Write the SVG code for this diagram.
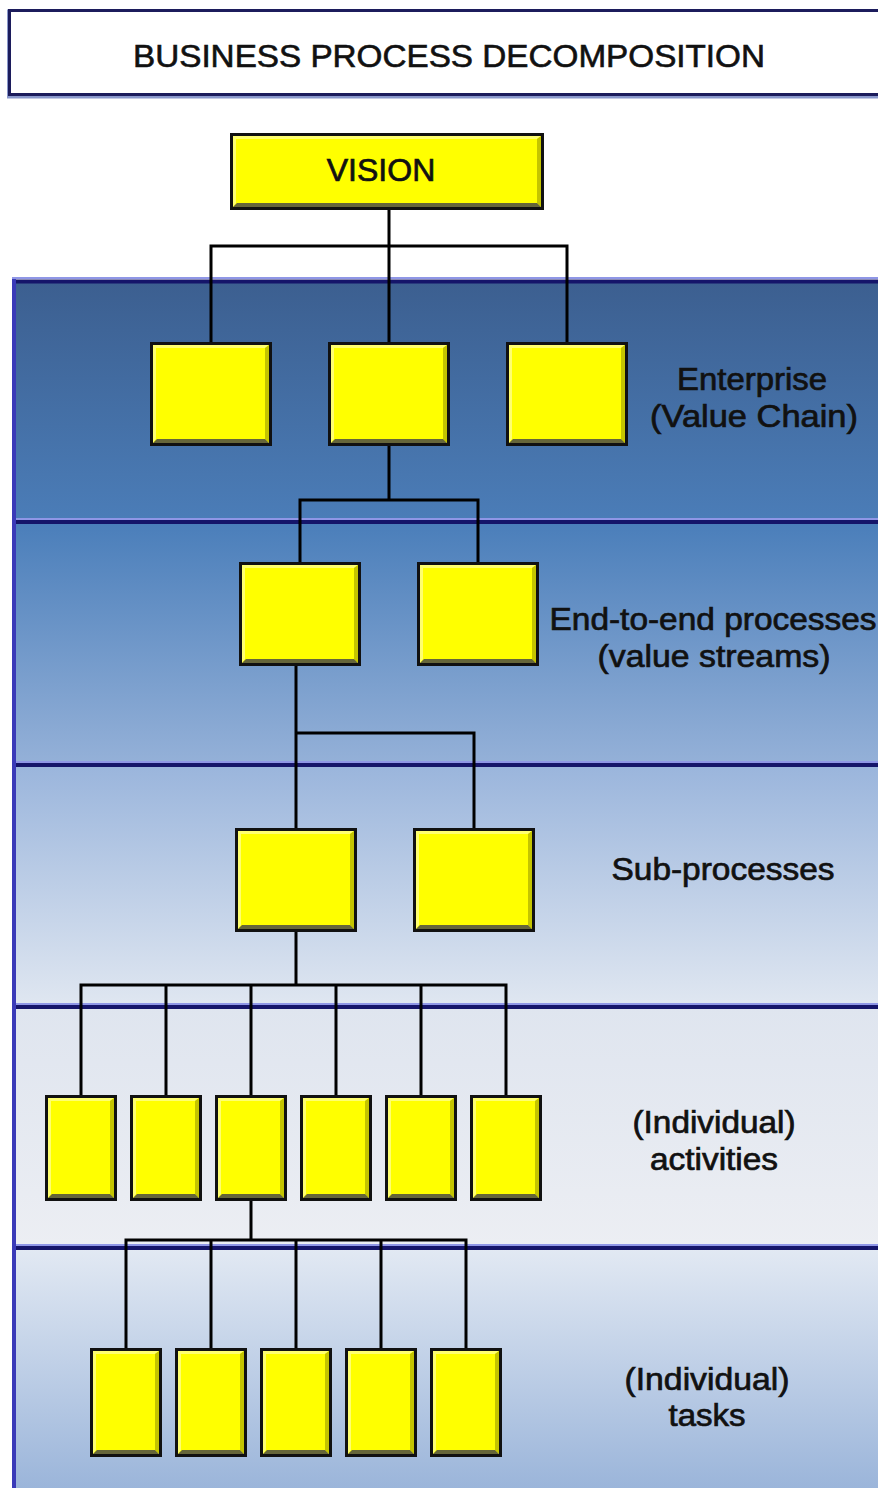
<svg xmlns="http://www.w3.org/2000/svg" xmlns:xlink="http://www.w3.org/1999/xlink" width="878" height="1488" viewBox="0 0 878 1488">
<style>
.lbl{font-family:"Liberation Sans",Arial,sans-serif;font-size:31px;fill:#111;stroke:#111;stroke-width:0.7px;text-anchor:middle}
.ttl{font-family:"Liberation Sans",Arial,sans-serif;font-size:31px;fill:#111;stroke:#111;stroke-width:0.6px;text-anchor:middle}
.conn{fill:none;stroke:#000;stroke-width:3;stroke-linecap:square}
.bx{fill:#ffff00;stroke:#111;stroke-width:3}
.bb{fill:#66663a}
.br{fill:#c4c400}
.bt{fill:#ffff70}
.hi{stroke:#8f96e6;stroke-width:2}
.dk{stroke:#15156a;stroke-width:4}
</style>
<defs>
<linearGradient id="g1" x1="0" y1="0" x2="0" y2="1"><stop offset="0" stop-color="#3c5f90"/><stop offset="1" stop-color="#4b7db8"/></linearGradient>
<linearGradient id="g2" x1="0" y1="0" x2="0" y2="1"><stop offset="0" stop-color="#4a7eba"/><stop offset="1" stop-color="#95b1d8"/></linearGradient>
<linearGradient id="g3" x1="0" y1="0" x2="0" y2="1"><stop offset="0" stop-color="#9ab5dc"/><stop offset="1" stop-color="#e0e7f1"/></linearGradient>
<linearGradient id="g4" x1="0" y1="0" x2="0" y2="1"><stop offset="0" stop-color="#dfe5ef"/><stop offset="1" stop-color="#eceef3"/></linearGradient>
<linearGradient id="g5" x1="0" y1="0" x2="0" y2="1"><stop offset="0" stop-color="#e2e9f3"/><stop offset="1" stop-color="#9bb5da"/></linearGradient>
<g id="b122">
<rect class="bx" x="1.5" y="1.5" width="119" height="101"/>
<polygon class="bt" points="3,3 119,3 115,6 6,6 6,97 3,101"/>
<polygon class="br" points="119,3 119,101 115,97 115,6"/>
<polygon class="bb" points="3,101 119,101 115,97 7,97"/>
</g>
<g id="b72a">
<rect class="bx" x="1.5" y="1.5" width="69" height="103"/>
<polygon class="bt" points="3,3 69,3 65,6 6,6 6,99 3,103"/>
<polygon class="br" points="69,3 69,103 65,99 65,6"/>
<polygon class="bb" points="3,103 69,103 65,99 7,99"/>
</g>
<g id="b72b">
<rect class="bx" x="1.5" y="1.5" width="69" height="106"/>
<polygon class="bt" points="3,3 69,3 65,6 6,6 6,102 3,106"/>
<polygon class="br" points="69,3 69,106 65,102 65,6"/>
<polygon class="bb" points="3,106 69,106 65,102 7,102"/>
</g>
</defs>

<rect x="0" y="0" width="878" height="1488" fill="#ffffff"/>

<g id="bands">
<rect x="12" y="282" width="870" height="240" fill="url(#g1)"/>
<rect x="12" y="522" width="870" height="243" fill="url(#g2)"/>
<rect x="12" y="765" width="870" height="242" fill="url(#g3)"/>
<rect x="12" y="1007" width="870" height="241" fill="url(#g4)"/>
<rect x="12" y="1248" width="870" height="240" fill="url(#g5)"/>
<line class="hi" x1="12" y1="278" x2="878" y2="278"/>
<line class="dk" x1="12" y1="281.5" x2="878" y2="281.5"/>
<line class="hi" x1="12" y1="519" x2="878" y2="519"/>
<line class="dk" x1="12" y1="522" x2="878" y2="522"/>
<line class="hi" x1="12" y1="762" x2="878" y2="762"/>
<line class="dk" x1="12" y1="765" x2="878" y2="765"/>
<line class="hi" x1="12" y1="1004" x2="878" y2="1004"/>
<line class="dk" x1="12" y1="1007" x2="878" y2="1007"/>
<line class="hi" x1="12" y1="1245" x2="878" y2="1245"/>
<line class="dk" x1="12" y1="1248" x2="878" y2="1248"/>
<line x1="14" y1="279" x2="14" y2="1488" stroke="#3a3ab8" stroke-width="4"/>
</g>

<g id="title">
<rect x="9.5" y="12" width="880" height="84" fill="none" stroke="#8a98cc" stroke-width="5"/>
<rect x="9.5" y="10.5" width="880" height="84" fill="#ffffff" stroke="#1c1c5c" stroke-width="3"/>
<text class="ttl" x="449" y="67" textLength="632" lengthAdjust="spacingAndGlyphs">BUSINESS PROCESS DECOMPOSITION</text>
</g>

<g id="connectors">
<path class="conn" d="M389 211V246M211 246H567M211 246V342M389 246V342M567 246V342"/>
<path class="conn" d="M389 446V500M300 500H478M300 500V562M478 500V562"/>
<path class="conn" d="M296 666V828M296 733H474V828"/>
<path class="conn" d="M296 932V985M81 985H506M81 985V1095M166 985V1095M251 985V1095M336 985V1095M421 985V1095M506 985V1095"/>
<path class="conn" d="M251 1201V1240M126 1240H466M126 1240V1348M211 1240V1348M296 1240V1348M381 1240V1348M466 1240V1348"/>
</g>

<g id="vision">
<rect class="bx" x="231.5" y="134.5" width="311" height="74"/>
<polygon class="bt" points="233,136 541,136 537,139 236,139 236,203 233,207"/>
<polygon class="br" points="541,136 541,207 537,203 537,139"/>
<polygon class="bb" points="233,207 541,207 537,203 237,203"/>
<text class="lbl" x="381" y="181" style="font-size:32px">VISION</text>
</g>

<g id="enterprise-1"><use xlink:href="#b122" x="150" y="342"/></g>
<g id="enterprise-2"><use xlink:href="#b122" x="328" y="342"/></g>
<g id="enterprise-3"><use xlink:href="#b122" x="506" y="342"/></g>

<g id="e2e-1"><use xlink:href="#b122" x="239" y="562"/></g>
<g id="e2e-2"><use xlink:href="#b122" x="417" y="562"/></g>

<g id="sub-1"><use xlink:href="#b122" x="235" y="828"/></g>
<g id="sub-2"><use xlink:href="#b122" x="413" y="828"/></g>

<g id="act-1"><use xlink:href="#b72a" x="45" y="1095"/></g>
<g id="act-2"><use xlink:href="#b72a" x="130" y="1095"/></g>
<g id="act-3"><use xlink:href="#b72a" x="215" y="1095"/></g>
<g id="act-4"><use xlink:href="#b72a" x="300" y="1095"/></g>
<g id="act-5"><use xlink:href="#b72a" x="385" y="1095"/></g>
<g id="act-6"><use xlink:href="#b72a" x="470" y="1095"/></g>

<g id="task-1"><use xlink:href="#b72b" x="90" y="1348"/></g>
<g id="task-2"><use xlink:href="#b72b" x="175" y="1348"/></g>
<g id="task-3"><use xlink:href="#b72b" x="260" y="1348"/></g>
<g id="task-4"><use xlink:href="#b72b" x="345" y="1348"/></g>
<g id="task-5"><use xlink:href="#b72b" x="430" y="1348"/></g>

<g id="labels">
<text class="lbl" x="752" y="390" textLength="150" lengthAdjust="spacingAndGlyphs">Enterprise</text>
<text class="lbl" x="754" y="427" textLength="208" lengthAdjust="spacingAndGlyphs">(Value Chain)</text>
<text class="lbl" x="713" y="630" textLength="327" lengthAdjust="spacingAndGlyphs">End-to-end processes</text>
<text class="lbl" x="714" y="667" textLength="233" lengthAdjust="spacingAndGlyphs">(value streams)</text>
<text class="lbl" x="723" y="880" textLength="223" lengthAdjust="spacingAndGlyphs">Sub-processes</text>
<text class="lbl" x="714" y="1133" textLength="163" lengthAdjust="spacingAndGlyphs">(Individual)</text>
<text class="lbl" x="714" y="1170" textLength="128" lengthAdjust="spacingAndGlyphs">activities</text>
<text class="lbl" x="707" y="1390" textLength="165" lengthAdjust="spacingAndGlyphs">(Individual)</text>
<text class="lbl" x="707" y="1426" textLength="77" lengthAdjust="spacingAndGlyphs">tasks</text>
</g>
</svg>
